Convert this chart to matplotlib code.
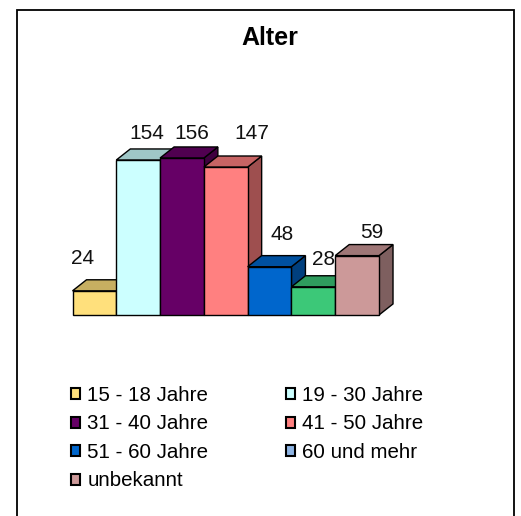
import matplotlib.pyplot as plt
from matplotlib.patches import Polygon, Rectangle, Patch
from matplotlib.colors import to_rgb

# data
title = 'Alter'
categories = ['15 - 18 Jahre', '19 - 30 Jahre', '31 - 40 Jahre', '41 - 50 Jahre',
              '51 - 60 Jahre', '60 und mehr', 'unbekannt']
counts = [24, 154, 156, 147, 48, 28, 59]

bar_colors = ['#FFE07C', '#CCFFFF', '#660066', '#FF8080', '#0066CC', '#3CC878', '#CC9999']
# the legend square of "60 und mehr" is light blue in the original, not green
legend_colors = ['#FFE07C', '#CCFFFF', '#660066', '#FF8080', '#0066CC', '#8EB4E3', '#CC9999']

# value label nudges in pixels (excel moves them around a bit)
label_dx = [-12, 9, 10, 26, 13, 10, 15]
label_dy = [32, 27, 25, 34, 32, 27, 23]

W, H = 521, 516
plt.rcParams['font.family'] = ['Liberation Sans', 'DejaVu Sans']

fig = plt.figure(figsize=(W / 100, H / 100), dpi=100)
ax = fig.add_axes([72.5 / W, 1 - 315 / H, 306.5 / W, 160 / H])
ax.set_xlim(0, len(counts))
ax.set_ylim(0, 159)
ax.axis('off')


def shade(c, f):
    r, g, b = to_rgb(c)
    return (r * f, g * f, b * f)


### fake 3D bars: side, top, then front
dx, dy = 0.32, 11
for i, (v, c) in enumerate(zip(counts, bar_colors)):
    x0, x1 = i, i + 1
    z = 1 + 3 * i
    side = Polygon([(x1, 0), (x1 + dx, dy), (x1 + dx, v + dy), (x1, v)],
                   fc=shade(c, 0.62), ec='black', lw=1, zorder=z, clip_on=False)
    top = Polygon([(x0, v), (x0 + dx, v + dy), (x1 + dx, v + dy), (x1, v)],
                  fc=shade(c, 0.78), ec='black', lw=1, zorder=z + 1, clip_on=False)
    ax.add_patch(side)
    ax.add_patch(top)
    ax.bar(x0, v, width=1, align='edge', color=c, edgecolor='black', lw=1,
           zorder=z + 2, clip_on=False)
    ax.annotate(str(v), (x0 + 0.5, v), xytext=(label_dx[i], label_dy[i]),
                textcoords='offset pixels', ha='center', va='center',
                fontsize=15, color='#111111', annotation_clip=False)

### title and frame
fig.text(270 / W, 1 - 38 / H, title, ha='center', va='center',
         fontsize=18, fontweight='bold')
fig.add_artist(Rectangle((17 / W, -0.05), (514 - 17) / W, 1 - 10 / H + 0.05,
                         transform=fig.transFigure, fill=False,
                         ec='black', lw=1.3))

### legend, row-major like excel
handles = [Patch(fc=c, ec='black', lw=1.5) for c in legend_colors]
order = [0, 2, 4, 6, 1, 3, 5]
fig.legend([handles[k] for k in order], [categories[k] for k in order],
           ncol=2, loc='upper left', bbox_to_anchor=(71 / W, 1 - 386 / H),
           frameon=False, fontsize=14.8, handlelength=0.45, handleheight=0.45,
           handletextpad=0.35, columnspacing=3.75, labelspacing=0.46,
           borderpad=0, borderaxespad=0)

fig.savefig('out.png', dpi=100)
